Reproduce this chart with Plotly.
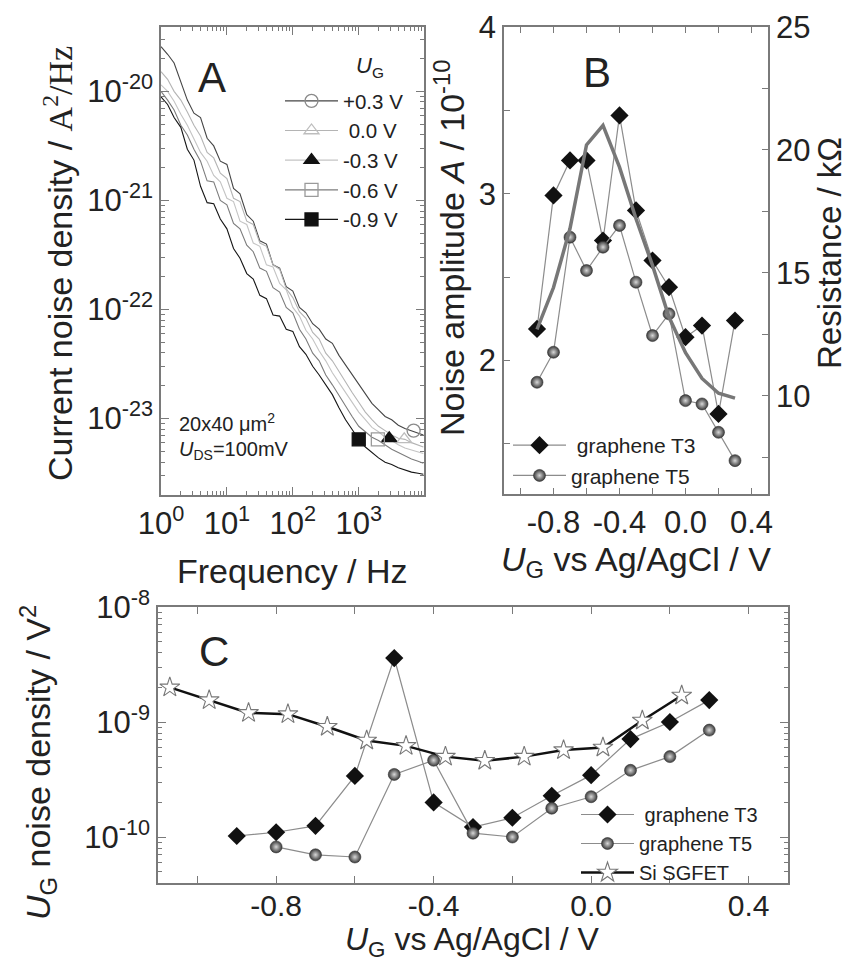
import plotly.graph_objects as go

# ---------------- Panel A data (log10 of current noise density, A^2/Hz) -------------
freq_hz = [1.0, 1.26, 1.58, 2.0, 2.51, 3.16, 3.98, 5.01, 6.31, 7.94,
           10, 12.6, 15.8, 20.0, 25.1, 31.6, 39.8, 50.1, 63.1, 79.4,
           100, 126, 158, 200, 251, 316, 398, 501, 631, 794,
           1000, 1259, 1585, 1995, 2512, 3162, 3981, 5012, 6310, 7943, 9550]

log_psd_p03 = [-19.59, -19.66, -19.74, -19.91, -20.08, -20.20, -20.24, -20.43, -20.50, -20.64,
               -20.67, -20.89, -20.94, -21.13, -21.19, -21.37, -21.40, -21.59, -21.62, -21.79,
               -21.83, -21.98, -22.03, -22.13, -22.18, -22.27, -22.31, -22.42, -22.51, -22.60,
               -22.69, -22.78, -22.86, -22.92, -22.98, -23.01, -23.06, -23.09, -23.11, -23.13, -23.15]
log_psd_000 = [-19.82, -19.89, -20.00, -20.08, -20.19, -20.31, -20.41, -20.56, -20.61, -20.75,
               -20.80, -20.98, -21.01, -21.19, -21.22, -21.39, -21.42, -21.59, -21.63, -21.81,
               -21.89, -22.02, -22.08, -22.21, -22.27, -22.40, -22.47, -22.57, -22.66, -22.76,
               -22.85, -22.94, -23.01, -23.07, -23.11, -23.15, -23.18, -23.19, -23.22, -23.24, -23.26]
log_psd_m03 = [-19.94, -20.00, -20.09, -20.21, -20.31, -20.44, -20.56, -20.64, -20.77, -20.83,
               -20.98, -21.01, -21.19, -21.22, -21.39, -21.42, -21.59, -21.61, -21.76, -21.82,
               -21.98, -22.06, -22.19, -22.27, -22.38, -22.47, -22.58, -22.67, -22.76, -22.86,
               -22.94, -23.01, -23.08, -23.12, -23.17, -23.20, -23.24, -23.27, -23.29, -23.31, -23.32]
log_psd_m06 = [-20.00, -20.08, -20.17, -20.31, -20.40, -20.53, -20.64, -20.82, -20.83, -21.00,
               -21.04, -21.21, -21.26, -21.41, -21.47, -21.62, -21.65, -21.80, -21.84, -21.98,
               -22.03, -22.18, -22.27, -22.40, -22.47, -22.60, -22.69, -22.79, -22.89, -22.98,
               -23.07, -23.12, -23.17, -23.20, -23.24, -23.28, -23.31, -23.34, -23.37, -23.39, -23.41]
log_psd_m09 = [-20.05, -20.12, -20.24, -20.33, -20.53, -20.63, -20.87, -21.02, -21.03, -21.17,
               -21.26, -21.44, -21.53, -21.67, -21.72, -21.87, -21.90, -22.05, -22.06, -22.18,
               -22.20, -22.34, -22.41, -22.52, -22.60, -22.69, -22.78, -22.90, -23.01, -23.10,
               -23.19, -23.26, -23.31, -23.36, -23.40, -23.42, -23.45, -23.47, -23.49, -23.50, -23.51]

gate_labels_A = ["+0.3 V", "\u00a00.0 V", "-0.3 V", "-0.6 V", "-0.9 V"]
marker_freq_A = [6800, 4900, 2900, 1950, 1000]
marker_log_A = [-23.11, -23.19, -23.18, -23.19, -23.19]

# ---------------- Panel B data ----------------
ug_B = [-0.9, -0.8, -0.7, -0.6, -0.5, -0.4, -0.3, -0.2, -0.1, 0.0, 0.1, 0.2, 0.3]
amp_T3 = [2.19, 2.99, 3.20, 3.20, 2.72, 3.47, 2.90, 2.60, 2.44, 2.14, 2.21, 1.68, 2.24]
amp_T5 = [1.87, 2.05, 2.74, 2.54, 2.68, 2.81, 2.47, 2.15, 2.28, 1.76, 1.74, 1.57, 1.40]
res_kohm = [12.7, 14.4, 16.8, 20.2, 21.0, 19.3, 17.2, 15.3, 13.2, 11.75, 10.7, 10.1, 9.9]

# ---------------- Panel C data ----------------
ug_C_T3 = [-0.9, -0.8, -0.7, -0.6, -0.5, -0.4, -0.3, -0.2, -0.1, 0.0, 0.1, 0.2, 0.3]
noise_T3 = [1.02e-10, 1.1e-10, 1.25e-10, 3.4e-10, 3.6e-9, 2.0e-10, 1.22e-10, 1.47e-10,
            2.28e-10, 3.45e-10, 7.1e-10, 1.0e-9, 1.55e-9]
ug_C_T5 = [-0.8, -0.7, -0.6, -0.5, -0.4, -0.3, -0.2, -0.1, 0.0, 0.1, 0.2, 0.3]
noise_T5 = [8.2e-11, 7.0e-11, 6.7e-11, 3.5e-10, 4.65e-10, 1.08e-10, 1.0e-10, 1.78e-10,
            2.24e-10, 3.8e-10, 5.0e-10, 8.5e-10]
ug_C_Si = [-1.07, -0.97, -0.87, -0.77, -0.67, -0.57, -0.47, -0.37, -0.27, -0.17,
           -0.07, 0.03, 0.13, 0.23]
noise_Si = [2.0e-9, 1.55e-9, 1.2e-9, 1.17e-9, 9.1e-10, 6.9e-10, 6.2e-10, 5.0e-10, 4.6e-10,
            5.0e-10, 5.7e-10, 6.0e-10, 1.03e-9, 1.7e-9]

# ---------------- figure ----------------
W, H = 849, 963
FONT = "Liberation Sans, Arial, sans-serif"
TXT = "#222222"
AX = "#7a7a7a"

def px(x):
    return x / W

def py(y):
    return 1 - y / H

fig = go.Figure()

curve_logs = [log_psd_p03, log_psd_000, log_psd_m03, log_psd_m06, log_psd_m09]
curve_cols = ["#454545", "#b4b4b4", "#c4c4c4", "#7c7c7c", "#151515"]
mk_sym = ["circle-open", "triangle-up-open", "triangle-up", "square-open", "square"]
mk_col = ["#8a8a8a", "#bdbdbd", "#111111", "#9a9a9a", "#111111"]

for lg, c in zip(curve_logs, curve_cols):
    fig.add_trace(go.Scatter(x=freq_hz, y=[10 ** v for v in lg], mode="lines",
                             line=dict(color=c, width=1.1), showlegend=False,
                             xaxis="x", yaxis="y", hoverinfo="skip"))
for i in range(5):
    fig.add_trace(go.Scatter(x=[marker_freq_A[i]], y=[10 ** marker_log_A[i]],
                             mode="lines+markers", name=gate_labels_A[i],
                             line=dict(color=curve_cols[i], width=1.2),
                             marker=dict(symbol=mk_sym[i], color=mk_col[i], size=13,
                                         line=dict(width=1.3, color=mk_col[i])),
                             xaxis="x", yaxis="y", legend="legend"))

# panel B
fig.add_trace(go.Scatter(x=ug_B, y=res_kohm, mode="lines", line=dict(color="#777777", width=3.5),
                         showlegend=False, xaxis="x2", yaxis="y3"))
fig.add_trace(go.Scatter(x=ug_B, y=amp_T3, mode="lines+markers", name="\u00a0graphene T3",
                         line=dict(color="#8c8c8c", width=1.2),
                         marker=dict(symbol="diamond", color="#111111", size=14),
                         xaxis="x2", yaxis="y2", legend="legend2"))
fig.add_trace(go.Scatter(x=ug_B, y=amp_T5, mode="lines+markers", name="graphene T5",
                         line=dict(color="#8c8c8c", width=1.2),
                         marker=dict(symbol="circle", color="#3a3a3a", size=12,
                                     gradient=dict(type="radial", color="#d8d8d8"),
                                     line=dict(width=0.6, color="#333333")),
                         xaxis="x2", yaxis="y2", legend="legend2"))

# panel C
fig.add_trace(go.Scatter(x=ug_C_T3, y=noise_T3, mode="lines+markers", name="\u00a0graphene T3",
                         line=dict(color="#8c8c8c", width=1.2),
                         marker=dict(symbol="diamond", color="#111111", size=14),
                         xaxis="x3", yaxis="y4", legend="legend3"))
fig.add_trace(go.Scatter(x=ug_C_T5, y=noise_T5, mode="lines+markers", name="graphene T5",
                         line=dict(color="#8c8c8c", width=1.2),
                         marker=dict(symbol="circle", color="#3a3a3a", size=12,
                                     gradient=dict(type="radial", color="#d8d8d8"),
                                     line=dict(width=0.6, color="#333333")),
                         xaxis="x3", yaxis="y4", legend="legend3"))
fig.add_trace(go.Scatter(x=ug_C_Si, y=noise_Si, mode="lines+markers", name="Si SGFET",
                         line=dict(color="#111111", width=2.5),
                         marker=dict(symbol="star", color="white", size=15,
                                     line=dict(width=1.1, color="#777777")),
                         xaxis="x3", yaxis="y4", legend="legend3"))

tickfont = dict(family=FONT, size=31, color=TXT)
common = dict(showline=True, linecolor=AX, linewidth=1.5, ticks="inside", tickcolor=AX,
              tickwidth=1.2, showgrid=False, zeroline=False, tickfont=tickfont)

minor_x_A = [k * 10 ** d for d in range(0, 4) for k in range(2, 10)]
minor_y_A = [k * 10.0 ** d for d in range(-24, -19) for k in range(2, 10)]
minor_y_C = [k * 10.0 ** d for d in range(-11, -8) for k in range(2, 10)]

fig.update_layout(
    width=W, height=H, margin=dict(l=0, r=0, t=0, b=0, pad=0, autoexpand=False),
    paper_bgcolor="white", plot_bgcolor="white",
    font=dict(family=FONT, color=TXT),
    xaxis=dict(common, type="log", range=[0, 3.99], domain=[px(161), px(424)], anchor="y",
               mirror="ticks", ticklen=8,
               tickvals=[1, 10, 100, 1000],
               ticktext=["10<sup>0</sup>", "10<sup>1</sup>", "10<sup>2</sup>", "10<sup>3</sup>"],
               minor=dict(tickvals=minor_x_A, ticks="inside", ticklen=4, tickcolor=AX)),
    yaxis=dict(common, type="log", range=[-23.70, -19.41], domain=[py(495), py(27)], anchor="x",
               mirror="ticks", ticklen=8,
               tickvals=[1e-23, 1e-22, 1e-21, 1e-20],
               ticktext=["10<sup>-23</sup>", "10<sup>-22</sup>", "10<sup>-21</sup>", "10<sup>-20</sup>"],
               minor=dict(tickvals=minor_y_A, ticks="inside", ticklen=4, tickcolor=AX)),
    xaxis2=dict(common, range=[-1.1, 0.5], domain=[px(504), px(768)], anchor="y2",
                mirror="ticks", ticklen=6,
                tickvals=[-1.0, -0.8, -0.6, -0.4, -0.2, 0.0, 0.2, 0.4],
                ticktext=["", "-0.8", "", "-0.4", "", "0.0", "", "0.4"]),
    yaxis2=dict(common, range=[1.2, 4.0], domain=[py(494), py(27)], anchor="x2",
                ticklen=6, tickvals=[1.5, 2, 2.5, 3, 3.5, 4],
                ticktext=["", "2", "", "3", "", "4"]),
    yaxis3=dict(common, range=[6, 25], overlaying="y2", side="right", anchor="x2",
                ticklen=6, tickvals=[7.5, 10, 12.5, 15, 17.5, 20, 22.5, 25],
                ticktext=["", "10", "", "15", "", "20", "", "25"]),
    xaxis3=dict(common, range=[-1.1, 0.5], domain=[px(158), px(788)], anchor="y4",
                mirror="ticks", ticklen=7, ticklabelstandoff=-5,
                tickvals=[-1.0, -0.8, -0.6, -0.4, -0.2, 0.0, 0.2, 0.4],
                ticktext=["", "-0.8", "", "-0.4", "", "0.0", "", "0.4"],
                tickfont=dict(family=FONT, size=30, color=TXT)),
    yaxis4=dict(common, type="log", range=[-10.4, -8.0], domain=[py(883), py(607)], anchor="x3",
                mirror="ticks", ticklen=8,
                tickvals=[1e-10, 1e-9, 1e-8],
                ticktext=["10<sup>-10</sup>", "10<sup>-9</sup>", "10<sup>-8</sup>"],
                minor=dict(tickvals=minor_y_C, ticks="inside", ticklen=4, tickcolor=AX)),
    legend=dict(x=px(280), y=py(81), xanchor="left", yanchor="top", bgcolor="rgba(0,0,0,0)",
                font=dict(family=FONT, size=20.5, color=TXT), itemwidth=53, tracegroupgap=0),
    legend2=dict(x=px(508), y=py(425), xanchor="left", yanchor="top", bgcolor="rgba(0,0,0,0)",
                 font=dict(family=FONT, size=21, color=TXT), itemwidth=53),
    legend3=dict(x=px(576), y=py(795), xanchor="left", yanchor="top", bgcolor="rgba(0,0,0,0)",
                 font=dict(family=FONT, size=20, color=TXT), itemwidth=53),
)

ann = []
def add_text(text, x, y, size, angle=0, xanchor="center", yanchor="middle"):
    ann.append(dict(text=text, x=px(x), y=py(y), xref="paper", yref="paper", showarrow=False,
                    textangle=angle, xanchor=xanchor, yanchor=yanchor,
                    font=dict(family=FONT, size=size, color=TXT)))

serif = '<span style="font-family:Liberation Serif, Times New Roman, serif">A<sup>2</sup>/Hz</span>'
add_text("Current noise density / " + serif, 58, 264, 34, angle=-90)
add_text("Frequency / Hz", 292, 571, 34)
add_text("Noise amplitude <i>A</i> / 10<sup>-10</sup>", 450, 248, 34, angle=-90)
add_text("Resistance / k\u03a9", 829, 253, 33, angle=-90)
add_text("<i>U</i><sub>G</sub> vs Ag/AgCl / V", 636, 561, 34)
add_text("<i>U</i><sub>G</sub> vs Ag/AgCl / V", 473, 941, 32)
add_text("<i>U</i><sub>G</sub> noise density / V<sup>2</sup>", 38, 763, 34, angle=-90)
add_text("A", 212, 77, 42)
add_text("B", 597, 73, 42)
add_text("C", 214, 651, 42)
add_text("<i>U</i><sub>G</sub>", 370, 67, 22)
add_text("20x40 \u03bcm<sup>2</sup>", 177, 422, 20, xanchor="left")
add_text("<i>U</i><sub>DS</sub>=100mV", 177, 450, 20, xanchor="left")
fig.update_layout(annotations=ann)

fig.write_html("out.html")
